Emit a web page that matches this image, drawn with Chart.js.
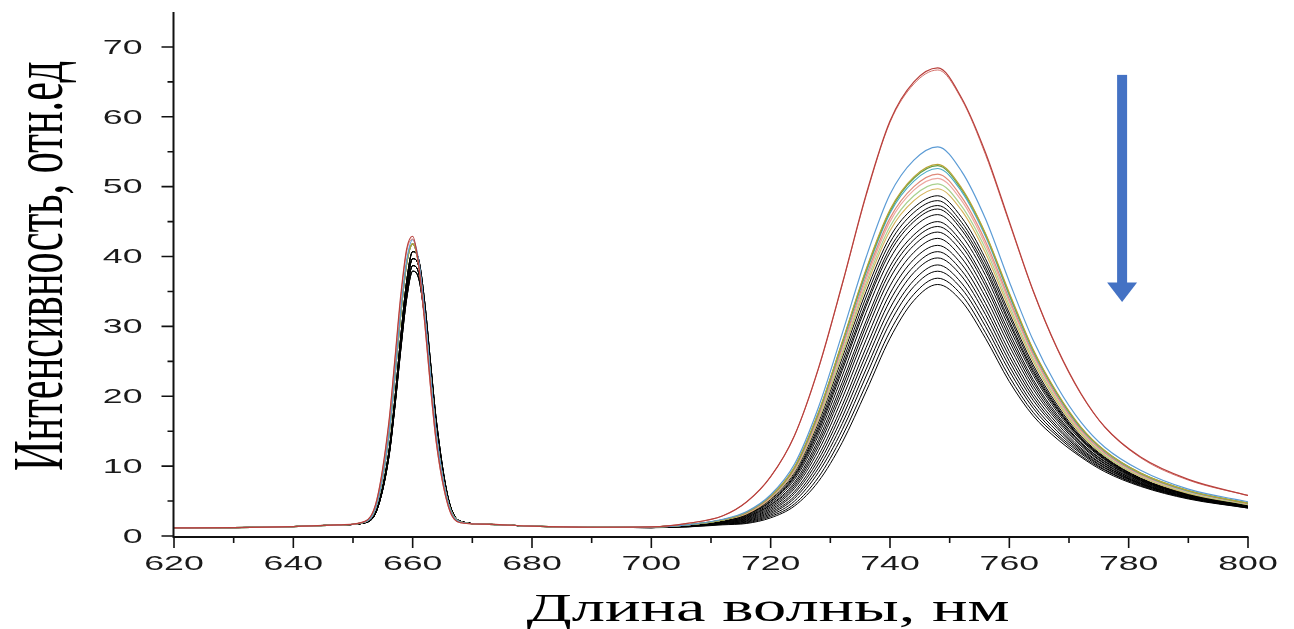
<!DOCTYPE html>
<html><head><meta charset="utf-8">
<script src="https://cdn.jsdelivr.net/npm/chart.js@4.4.1/dist/chart.umd.min.js"></script>
<style>html,body{margin:0;padding:0;background:#fff;}#wrap{width:1294px;height:629px;}</style>
</head><body><div id="wrap"><canvas id="c" width="1294" height="629"></canvas></div>
<script>
// ---------- data ----------
const WAVELENGTH = [620,630,640,648, 652,654,656,657,658,659,660,661,662,663,664,666,668, 672,680,690,
  700,706,712,716,720,724,728,732,736,740,744,748,752,756,760,764,768,772,776,782,790,800];
const BASE_LEFT = [1.15,1.2,1.35,1.6];
const BASE_MID = [1.7,1.4,1.25];

// first band (652..668 nm)
const P1_RED1  = [2.1,5.2,16.2,25.1,34.4,41.1,42.9,38.9,30.8,21.4,13.2,4.2,1.9];
const P1_RED2  = [2.1,5.2,16.0,24.9,34.0,40.8,42.5,38.5,30.5,21.1,13.0,4.1,1.9];
const P1_BLUE  = [2.0,4.6,14.4,22.9,32.2,39.5,42.4,39.5,32.2,22.9,14.4,4.6,2.0];
const P1_COLOR = [2.0,4.6,14.2,22.6,31.7,39.0,41.8,39.0,31.7,22.6,14.2,4.6,2.0];
const P1_K1 = [1.9,3.9,12.0,19.5,28.5,36.5,40.7,39.6,33.6,24.8,16.3,5.3,2.1];
const P1_K2 = [1.9,3.8,11.7,19.1,27.8,35.6,39.7,38.7,32.7,24.3,15.9,5.2,2.1];
const P1_K3 = [1.9,3.7,11.4,18.6,27.1,34.7,38.7,37.7,31.9,23.7,15.5,5.2,2.1];
const P1_K4 = [1.9,3.7,11.2,18.3,26.6,34.0,37.9,36.9,31.3,23.2,15.2,5.1,2.1];

// second band (700..800 nm)
const P2_RED1   = [1.3,1.8,2.9,4.9,8.5,14.4,24.0,36.1,48.9,59.4,65.0,67.0,62.7,54.9,45.0,35.1,26.9,20.4,15.6,11.3,8.1,5.8];
const P2_RED2   = [1.3,1.8,2.9,4.9,8.5,14.4,23.9,36.0,48.7,59.2,64.7,66.7,62.5,54.6,44.8,35.0,26.8,20.3,15.6,11.2,8.0,5.8];
const P2_BLUE   = [1.3,1.6,2.4,3.5,5.9,10.3,18.4,29.0,39.9,48.9,53.8,55.7,52.2,45.4,36.4,28.0,21.4,16.3,12.7,9.4,6.7,4.9];
const P2_OLIVE  = [1.3,1.6,2.3,3.4,5.7,9.9,17.7,27.8,38.2,46.7,51.4,53.2,49.8,43.3,34.8,26.7,20.5,15.6,12.2,9.0,6.5,4.7];
const P2_GREEN  = [1.3,1.6,2.3,3.4,5.7,9.8,17.6,27.7,38.0,46.5,51.2,53.0,49.6,43.2,34.6,26.6,20.4,15.5,12.2,9.0,6.5,4.7];
const P2_CYAN   = [1.3,1.6,2.3,3.4,5.7,9.8,17.5,27.5,37.7,46.2,50.8,52.6,49.3,42.9,34.4,26.4,20.3,15.4,12.1,8.9,6.4,4.7];
const P2_SALMON = [1.3,1.6,2.3,3.3,5.6,9.6,17.2,27.1,37.2,45.5,50.0,51.8,48.5,42.2,33.9,26.1,20.0,15.2,11.9,8.8,6.4,4.6];
const P2_PINK   = [1.3,1.6,2.3,3.3,5.5,9.5,17.0,26.8,36.7,45.0,49.5,51.2,48.0,41.7,33.5,25.8,19.8,15.0,11.8,8.7,6.3,4.6];
const P2_LGREEN = [1.3,1.6,2.3,3.3,5.5,9.4,16.8,26.3,36.2,44.3,48.7,50.4,47.2,41.1,33.0,25.4,19.5,14.8,11.6,8.6,6.2,4.5];
const P2_ORANGE = [1.3,1.6,2.3,3.2,5.4,9.3,16.6,26.0,35.7,43.7,48.0,49.7,46.6,40.5,32.5,25.0,19.2,14.6,11.5,8.5,6.1,4.5];
const P2_K01 = [1.3,1.6,2.3,3.2,5.3,9.1,16.2,25.5,35.0,42.8,47.0,48.7,45.6,39.7,31.9,24.5,18.8,14.3,11.3,8.3,6.0,4.4];
const P2_K02 = [1.3,1.6,2.3,3.1,5.2,8.8,15.7,24.8,34.2,42.0,46.3,48.0,44.9,39.1,31.4,24.1,18.5,14.1,11.2,8.2,6.0,4.4];
const P2_K03 = [1.3,1.6,2.2,3.1,5.0,8.6,15.3,24.2,33.4,41.2,45.5,47.3,44.3,38.5,30.8,23.7,18.3,14.0,11.1,8.2,5.9,4.4];
const P2_K04 = [1.3,1.6,2.2,3.0,4.9,8.4,14.9,23.7,32.9,40.6,45.0,46.8,43.8,38.0,30.4,23.4,18.1,13.9,11.0,8.1,5.9,4.3];
const P2_K05 = [1.3,1.5,2.2,2.9,4.7,8.1,14.4,22.9,32.0,39.7,44.2,46.0,43.0,37.3,29.8,23.0,17.8,13.7,10.9,8.0,5.9,4.3];
const P2_K06 = [1.3,1.5,2.1,2.8,4.5,7.7,13.8,22.0,30.8,38.6,43.1,45.0,42.1,36.4,29.1,22.4,17.4,13.4,10.7,8.0,5.8,4.3];
const P2_K07 = [1.3,1.5,2.1,2.7,4.4,7.4,13.3,21.3,30.1,37.8,42.4,44.3,41.5,35.8,28.5,22.0,17.1,13.3,10.6,7.9,5.8,4.3];
const P2_K08 = [1.3,1.5,2.0,2.6,4.2,7.1,12.8,20.6,29.2,36.9,41.6,43.5,40.7,35.0,27.9,21.5,16.8,13.1,10.4,7.8,5.7,4.2];
const P2_K09 = [1.3,1.5,2.0,2.5,4.0,6.8,12.2,19.7,28.1,35.8,40.6,42.6,39.8,34.2,27.2,21.0,16.5,12.9,10.3,7.7,5.7,4.2];
const P2_K10 = [1.2,1.4,1.9,2.4,3.8,6.4,11.5,18.7,27.0,34.7,39.6,41.6,38.9,33.3,26.4,20.4,16.1,12.6,10.1,7.6,5.6,4.2];
const P2_K11 = [1.2,1.4,1.9,2.3,3.6,6.1,10.9,17.9,26.0,33.7,38.6,40.7,38.0,32.5,25.7,19.9,15.7,12.4,10.0,7.5,5.6,4.2];
const P2_K12 = [1.2,1.4,1.8,2.2,3.4,5.7,10.3,17.0,25.0,32.6,37.7,39.8,37.2,31.7,25.0,19.4,15.4,12.2,9.8,7.5,5.5,4.1];
const P2_K13 = [1.2,1.4,1.8,2.1,3.2,5.4,9.7,16.1,23.9,31.5,36.6,38.8,36.2,30.8,24.3,18.8,15.0,12.0,9.7,7.4,5.5,4.1];
const P2_K14 = [1.2,1.4,1.7,2.0,3.0,5.0,9.1,15.2,22.9,30.5,35.7,37.9,35.4,30.0,23.6,18.3,14.6,11.8,9.5,7.3,5.4,4.1];
const P2_K15 = [1.2,1.3,1.7,1.9,2.8,4.6,8.4,14.3,21.7,29.3,34.6,36.9,34.5,29.1,22.8,17.7,14.3,11.5,9.4,7.2,5.4,4.0];
const P2_K16 = [1.2,1.3,1.6,1.8,2.6,4.3,7.8,13.4,20.7,28.3,33.7,36.0,33.6,28.3,22.1,17.2,13.9,11.3,9.2,7.1,5.3,4.0];

const X_TICKS = [620,640,660,680,700,720,740,760,780,800];
const X_MINOR = [630,650,670,690,710,730,750,770,790];
const Y_TICKS = [0,10,20,30,40,50,60,70];
const Y_MINOR = [5,15,25,35,45,55,65];
const X_TITLE = 'Длина волны, нм';
const Y_TITLE = 'Интенсивность, отн.ед';
const ARROW_X = 778.9, ARROW_TOP = 66.0, ARROW_HEAD = 36.3, ARROW_TIP = 33.5;

// ---------- series table ----------
const SERIES = [
  [P1_RED1, P2_RED1, '#b8403c', 1.2],
  [P1_RED2, P2_RED2, '#d4726c', 1.0],
  [P1_BLUE, P2_BLUE, '#5b9bd5', 1.2],
  [P1_COLOR, P2_OLIVE, '#b9a436', 1.2],
  [P1_COLOR, P2_GREEN, '#5f9e4a', 1.2],
  [P1_COLOR, P2_CYAN, '#4bacc6', 1.2],
  [P1_COLOR, P2_SALMON, '#e08a7a', 1.2],
  [P1_COLOR, P2_PINK, '#eda7a0', 1.2],
  [P1_COLOR, P2_LGREEN, '#a9d18e', 1.2],
  [P1_COLOR, P2_ORANGE, '#d6b45e', 1.2],
  [P1_K1, P2_K01, '#000', 1], [P1_K2, P2_K02, '#000', 1], [P1_K1, P2_K03, '#000', 1],
  [P1_K3, P2_K04, '#000', 1], [P1_K2, P2_K05, '#000', 1], [P1_K1, P2_K06, '#000', 1],
  [P1_K4, P2_K07, '#000', 1], [P1_K2, P2_K08, '#000', 1], [P1_K3, P2_K09, '#000', 1],
  [P1_K1, P2_K10, '#000', 1], [P1_K2, P2_K11, '#000', 1], [P1_K4, P2_K12, '#000', 1],
  [P1_K3, P2_K13, '#000', 1], [P1_K2, P2_K14, '#000', 1], [P1_K4, P2_K15, '#000', 1],
  [P1_K3, P2_K16, '#000', 1]
];

const datasets = SERIES.map((s, i) => {
  const ys = BASE_LEFT.concat(s[0], BASE_MID, s[1]);
  return {
    label: 'S' + i,
    data: WAVELENGTH.map((x, j) => ({x: x, y: ys[j]})),
    borderColor: s[2], borderWidth: s[3],
    pointRadius: 0, fill: false, cubicInterpolationMode: 'monotone'
  };
});

const SX = 1.7;
function sText(ctx, text, x, y, align, baseline, font, sx) {
  ctx.save(); ctx.translate(x, y); ctx.scale(sx, 1);
  ctx.font = font; ctx.textAlign = align; ctx.textBaseline = baseline;
  ctx.fillText(text, 0, 0); ctx.restore();
}

const axesPlugin = {
  id: 'axesPlugin',
  afterDraw(chart) {
    const ctx = chart.ctx, xs = chart.scales.x, ys = chart.scales.y, ca = chart.chartArea;
    const ax = ca.left - 0.5, ay = ca.bottom + 1;
    ctx.save();
    ctx.strokeStyle = '#111'; ctx.lineWidth = 2;
    ctx.beginPath(); ctx.moveTo(ax, ca.top); ctx.lineTo(ax, ay); ctx.lineTo(ca.right + 0.5, ay); ctx.stroke();
    ctx.lineWidth = 1.6;
    ctx.beginPath();
    Y_TICKS.forEach(v => { const p = ys.getPixelForValue(v); ctx.moveTo(ax, p); ctx.lineTo(ax - 12, p); });
    Y_MINOR.forEach(v => { const p = ys.getPixelForValue(v); ctx.moveTo(ax, p); ctx.lineTo(ax - 6, p); });
    X_TICKS.forEach(v => { const p = xs.getPixelForValue(v); ctx.moveTo(p, ay); ctx.lineTo(p, ay + 11); });
    X_MINOR.forEach(v => { const p = xs.getPixelForValue(v); ctx.moveTo(p, ay); ctx.lineTo(p, ay + 6); });
    ctx.stroke();
    ctx.fillStyle = '#1a1a1a';
    const tf = '21px "Liberation Sans", Arial, sans-serif';
    Y_TICKS.forEach(v => sText(ctx, String(v), ax - 31, ys.getPixelForValue(v) + 1, 'right', 'middle', tf, SX));
    X_TICKS.forEach(v => sText(ctx, String(v), xs.getPixelForValue(v), ay + 27, 'center', 'middle', tf, SX));
    // titles
    ctx.fillStyle = '#000';
    const xf = '40px "Liberation Serif", "Times New Roman", serif';
    ctx.font = xf;
    const wx = ctx.measureText(X_TITLE).width;
    sText(ctx, X_TITLE, 768, 621, 'center', 'alphabetic', xf, 483 / wx);
    const yf = '42px "Liberation Serif", "Times New Roman", serif';
    ctx.font = yf;
    const wy = ctx.measureText(Y_TITLE).width;
    ctx.save();
    ctx.translate(62, 266); ctx.scale(SX, 410 / wy); ctx.rotate(-Math.PI / 2);
    ctx.font = yf; ctx.textAlign = 'center'; ctx.textBaseline = 'alphabetic';
    ctx.fillText(Y_TITLE, 0, 0);
    ctx.restore();
    // arrow
    const xa = xs.getPixelForValue(ARROW_X), yt = ys.getPixelForValue(ARROW_TOP);
    const yh = ys.getPixelForValue(ARROW_HEAD), yp = ys.getPixelForValue(ARROW_TIP);
    ctx.fillStyle = '#4472c4';
    ctx.fillRect(xa - 5, yt, 10, yh - yt + 1);
    ctx.beginPath(); ctx.moveTo(xa - 15, yh); ctx.lineTo(xa + 15, yh); ctx.lineTo(xa, yp); ctx.closePath(); ctx.fill();
    ctx.restore();
  }
};

new Chart(document.getElementById('c'), {
  type: 'line',
  data: { datasets: datasets },
  options: {
    responsive: false, animation: false, devicePixelRatio: 1,
    layout: { padding: { left: 174, right: 46, top: 12, bottom: 93 } },
    plugins: { legend: { display: false }, tooltip: { enabled: false } },
    scales: {
      x: { type: 'linear', min: 620, max: 800, display: false },
      y: { type: 'linear', min: 0, max: 75, display: false }
    }
  },
  plugins: [axesPlugin]
});
</script></body></html>
